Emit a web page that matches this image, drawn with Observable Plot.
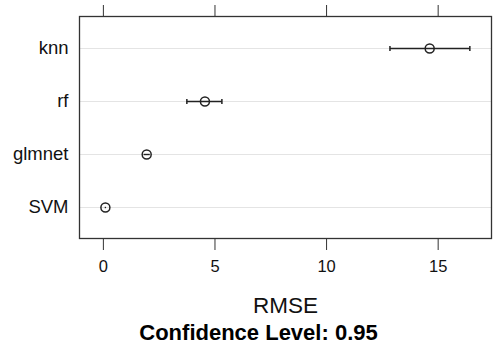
<!DOCTYPE html>
<html>
<head>
<meta charset="utf-8">
<script src="https://cdn.jsdelivr.net/npm/d3@7"></script>
<script src="https://cdn.jsdelivr.net/npm/@observablehq/plot@0.6"></script>
<style>
  html, body { margin: 0; padding: 0; background: #fff; }
  #chart svg { display: block; }
</style>
</head>
<body>
<div id="chart"></div>
<script>
const models = ["knn", "rf", "glmnet", "SVM"];
const rmse  = [14.62, 4.55, 1.94, 0.09];
const lower = [12.84, 3.74, 1.80, 0.06];
const upper = [16.42, 5.31, 2.08, 0.12];
const xTicks = [0, 5, 10, 15];
const xLabel = "RMSE";
const caption = "Confidence Level: 0.95";

const data = models.map((m, i) => ({model: m, rmse: rmse[i], lo: lower[i], hi: upper[i]}));
const caps = data.filter(d => d.hi - d.lo > 0.5).flatMap(d => [{model: d.model, x: d.lo}, {model: d.model, x: d.hi}]);

const capSymbol = {draw(ctx) { ctx.moveTo(0, -2.5); ctx.lineTo(0, 2.5); }};

const font = "'Liberation Sans', Arial, Helvetica, sans-serif";

const chart = Plot.plot({
  width: 494,
  height: 345,
  marginTop: 16,
  marginBottom: 107,
  marginLeft: 79,
  marginRight: 3,
  style: {fontFamily: font, fontSize: "16px", color: "#000", background: "#fff"},
  x: {domain: [-1.07, 17.39], ticks: xTicks},
  y: {type: "point", domain: models, padding: 0.57},
  marks: [
    Plot.ruleY(models, {y: d => d, stroke: "#e4e4e4", strokeWidth: 1}),
    Plot.axisX({anchor: "top", ticks: xTicks, tickSize: 12, tickFormat: () => "", label: null, stroke: "#333"}),
    Plot.axisX({anchor: "bottom", ticks: xTicks, tickSize: 12, tickPadding: 10, fontSize: 16.5, label: null, stroke: "#333", fill: "#111"}),
    Plot.axisY({tickSize: 0, tickPadding: 11, fontSize: 18.5, label: null, fill: "#111"}),
    Plot.link(data, {x1: "lo", x2: "hi", y1: "model", y2: "model", stroke: "#222", strokeWidth: 1.4}),
    Plot.dot(caps, {x: "x", y: "model", symbol: capSymbol, r: 3, stroke: "#222", strokeWidth: 1.5, fill: "none"}),
    Plot.dot(data, {x: "rmse", y: "model", r: 4.5, stroke: "#222", strokeWidth: 1.5, fill: "none"}),
    Plot.frame({stroke: "#333", strokeWidth: 1.3}),
    Plot.text([xLabel], {frameAnchor: "bottom", dy: 74, fontSize: 22.5, fill: "#111", text: d => d}),
    Plot.text([caption], {frameAnchor: "bottom", dy: 101, dx: -27, fontSize: 22, fontWeight: "bold", fill: "#000", text: d => d})
  ]
});
document.getElementById("chart").append(chart);
</script>
</body>
</html>
